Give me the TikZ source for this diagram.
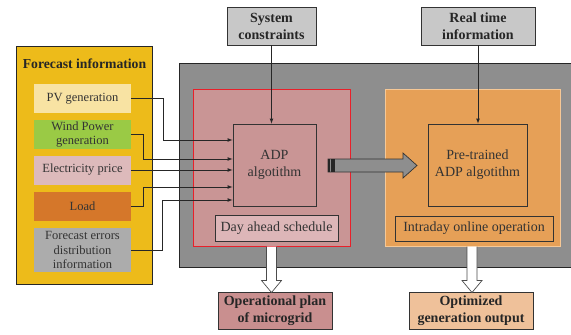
\documentclass[tikz,border=0pt]{standalone}
\usepackage{fontspec}
\setmainfont{Liberation Serif}
\definecolor{fcyellow}{HTML}{EDBB1A}
\definecolor{pvcol}{HTML}{F8E3A3}
\definecolor{windcol}{HTML}{9ACA45}
\definecolor{pricecol}{HTML}{DDBABB}
\definecolor{loadcol}{HTML}{D5772A}
\definecolor{errcol}{HTML}{ACACAC}
\definecolor{maingray}{HTML}{8E8E8E}
\definecolor{dayrose}{HTML}{C99595}
\definecolor{dayred}{HTML}{E8202A}
\definecolor{daypink}{HTML}{DDB6B8}
\definecolor{intraorange}{HTML}{E6A057}
\definecolor{intraedge}{HTML}{F6C896}
\definecolor{infogray}{HTML}{C8C8C8}
\definecolor{planrose}{HTML}{C98F8F}
\definecolor{outpeach}{HTML}{EFC19A}
\begin{document}
\begin{tikzpicture}[x=1pt,y=-1pt,>=latex]
        \tikzstyle{panel}=[draw=black!85,line width=0.8pt,inner sep=0pt]
        \tikzstyle{input}=[inner sep=0pt,minimum width=97pt,minimum height=29pt,align=center,text=black!80,font=\fontsize{12.5}{14.3}\selectfont]
        \tikzstyle{block}=[draw=black!80,line width=0.8pt,inner sep=0pt,align=center,text=black!80,font=\fontsize{14}{17}\selectfont]
        \tikzstyle{info}=[draw=black!80,line width=0.8pt,inner sep=0pt,align=center,text=black!85,font=\fontsize{14}{17}\selectfont\bfseries]
        \tikzstyle{edge}=[draw=black!85,line width=0.7pt,->]
        \tikzstyle{hollow}=[draw=black!70,fill=white,line width=0.7pt]
        \useasboundingbox (0,0) rectangle (571,335);
       \begin{scope}
         % forecast side
         \node [panel,fill=fcyellow,minimum width=136pt,minimum height=238pt] (fc) at (84,165) {};
         \node [font=\fontsize{13.7}{16}\selectfont\bfseries,text=black!85] (fctitle) at (84.5,64) {Forecast information};
         \node [input,fill=pvcol] (pv) at (82.5,98.5) {PV generation};
         \node [input,fill=windcol] (wind) at (82.5,134.5) {Wind Power\\generation};
         \node [input,fill=pricecol] (price) at (82.5,170) {Electricity price};
         \node [input,fill=loadcol] (load) at (82.5,206) {Load};
         \node [input,fill=errcol,minimum height=44pt] (err) at (82.5,250) {Forecast errors\\distribution\\information};
         % main area
         \node [panel,fill=maingray,minimum width=401pt,minimum height=204pt] (main) at (379.5,165) {};
         \node [draw=dayred,line width=1pt,fill=dayrose,minimum width=157pt,minimum height=157pt] (day) at (271.5,167.5) {};
         \node [draw=intraedge,line width=1pt,fill=intraorange,minimum width=175pt,minimum height=157pt] (intra) at (472.5,167.5) {};
         \node [block,fill=dayrose,minimum width=83pt,minimum height=82pt] (adp) at (274.5,165) {ADP\\algotithm};
         \node [block,fill=daypink,minimum width=123pt,minimum height=26pt] (sched) at (276.5,228) {Day ahead schedule};
         \node [block,fill=intraorange,minimum width=99pt,minimum height=82pt] (pre) at (477.5,165) {Pre-trained\\ADP algotithm};
         \node [block,fill=intraorange,minimum width=158pt,minimum height=25pt] (online) at (474,228.5) {Intraday online operation};
         % outside boxes
         \node [info,fill=infogray,minimum width=89pt,minimum height=38pt] (sys) at (271.5,26) {System\\constraints};
         \node [info,fill=infogray,minimum width=114pt,minimum height=38pt] (rt) at (478,26) {Real time\\information};
         \node [info,fill=planrose,minimum width=114pt,minimum height=37pt] (plan) at (275,310.5) {Operational plan\\of microgrid};
         \node [info,fill=outpeach,minimum width=124pt,minimum height=37pt] (out) at (471,310.5) {Optimized\\generation output};
         % inputs
         \path[edge] (pv.east) -- ++(32,0) |- ([yshift=25pt]adp.west);
         \path[edge] (wind.east) -- ++(12,0) |- ([yshift=6pt]adp.west);
         \path[edge] (price.east) -- (price.east -| adp.west);
         \path[edge] (load.east) -- ++(12,0) |- ([yshift=-22pt]adp.west);
         \path[edge] (err.east) -- ++(31,0) |- ([yshift=-35pt]adp.west);
         \path[edge] (sys.south) -- (sys.south |- adp.north);
         \path[edge] (rt.south) -- (rt.south |- pre.north);
         % big arrows
         \draw[draw=black!80,fill=maingray,line width=0.7pt] (328,159) -- (403,159) -- (403,153) -- (417,165.5) -- (403,178) -- (403,172) -- (328,172) -- cycle;
         \fill[black!85] (328,159) rectangle (330,172);
         \fill[black!85] (331,159) rectangle (335,172);
         \draw[hollow] ([xshift=-5pt]day.south) -- ++(0,34) -- ++(-5,0) -- ++(10,12) -- ++(10,-12) -- ++(-5,0) -- ++(0,-34);
         \draw[hollow] ([xshift=-5.5pt]intra.south) -- ++(0,34) -- ++(-5,0) -- ++(10,12) -- ++(10,-12) -- ++(-5,0) -- ++(0,-34);
        \end{scope}
      \end{tikzpicture}
\end{document}
